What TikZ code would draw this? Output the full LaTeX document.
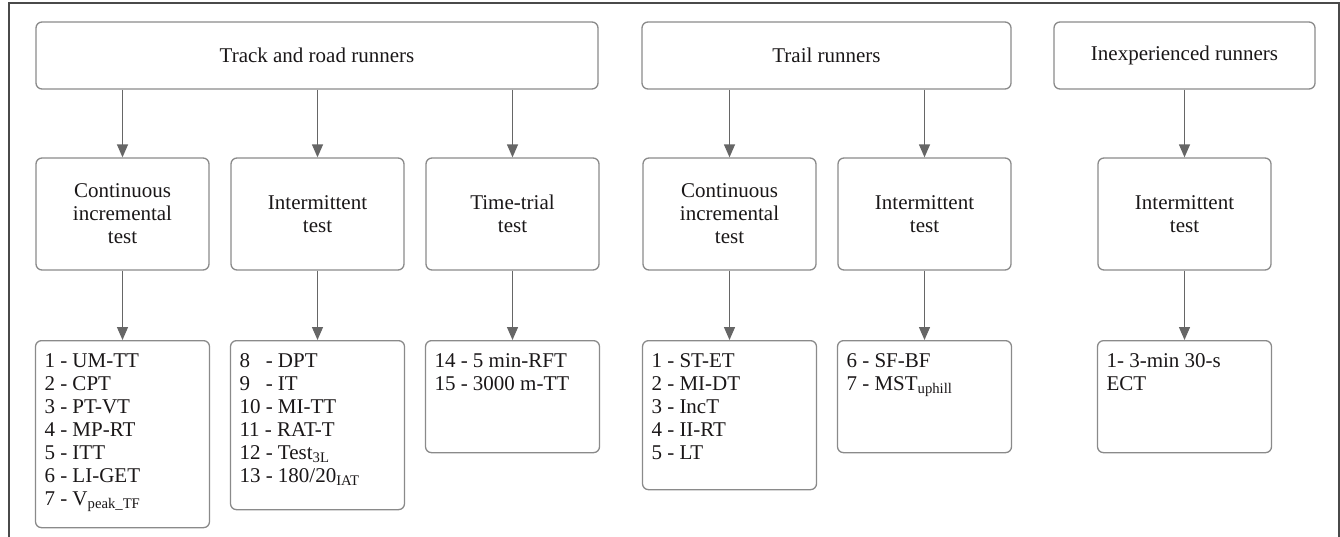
\documentclass[tikz,border=0pt]{standalone}
\usepackage{fontspec}
\setmainfont{Liberation Serif}
\usetikzlibrary{arrows.meta}

\definecolor{boxline}{HTML}{8A8A8A}
\definecolor{arrowcol}{HTML}{666666}
\definecolor{framecol}{HTML}{4A4A4A}
\definecolor{textcol}{HTML}{1A1718}

% top-aligned block of lines inside a list box
\newcommand{\itemlines}[2]{\parbox[t][#1][t]{156pt}{#2}}

\tikzset{
  every node/.style={text=textcol, font=\fontsize{21}{23}\selectfont},
  groupbox/.style={draw=boxline, line width=1.3pt, rounded corners=6pt,
    minimum width=#1, minimum height=67pt, inner sep=0pt},
  testbox/.style={draw=boxline, line width=1.3pt, rounded corners=6pt,
    minimum width=173pt, minimum height=112pt, inner sep=0pt, align=center},
  listbox/.style={draw=boxline, line width=1.3pt, rounded corners=6pt,
    minimum width=173pt, anchor=north, inner xsep=9pt, inner ysep=13pt},
  link/.style={draw=arrowcol, line width=1.3pt,
    -{Triangle[length=13pt,width=11pt]}}
}

\begin{document}
\begin{tikzpicture}[x=1pt,y=-1pt]
\useasboundingbox (0,0) rectangle (1340,536);

% outer frame
\draw[framecol, line width=2pt] (9,545) -- (9,3) -- (1338.5,3) -- (1338.5,545);

% runner groups
\node[groupbox=562pt] (trk) at (317,55.5) {Track and road runners};
\node[groupbox=369pt] (trl) at (826.5,55.5) {Trail runners};
\node[groupbox=261pt] (inx) at (1184.5,55.5) {Inexperienced runners};

% test types
\node[testbox] (ci1) at (122.5,214) {Continuous\\incremental\\test};
\node[testbox] (it1) at (317.5,214) {Intermittent\\test};
\node[testbox] (tt1) at (512.5,214) {Time-trial\\test};
\node[testbox] (ci2) at (729.5,214) {Continuous\\incremental\\test};
\node[testbox] (it2) at (924.5,214) {Intermittent\\test};
\node[testbox] (it3) at (1184.5,214) {Intermittent\\test};

% protocols
\node[listbox] (l1) at (122.5,340) {\itemlines{161pt}{%
  1 - UM-TT\\2 - CPT\\3 - PT-VT\\4 - MP-RT\\5 - ITT\\6 - LI-GET\\
  7 - V\textsubscript{peak\_TF}}};
\node[listbox] (l2) at (317.5,340) {\itemlines{143pt}{%
  8\phantom{0} - DPT\\9\phantom{0} - IT\\10 - MI-TT\\11 - RAT-T\\
  12 - Test\textsubscript{3L}\\13 - 180/20\textsubscript{IAT}}};
\node[listbox] (l3) at (512.5,340) {\itemlines{86pt}{%
  14 - 5 min-RFT\\15 - 3000 m-TT}};
\node[listbox] (l4) at (729.5,340) {\itemlines{123pt}{%
  1 - ST-ET\\2 - MI-DT\\3 - IncT\\4 - II-RT\\5 - LT}};
\node[listbox] (l5) at (924.5,340) {\itemlines{86pt}{%
  6 - SF-BF\\7 - MST\textsubscript{uphill}}};
\node[listbox] (l6) at (1184.5,340) {\itemlines{86pt}{%
  1- 3-min 30-s\\ECT}};

% connectors
\foreach \g/\t in {trk/ci1, trk/it1, trk/tt1, trl/ci2, trl/it2, inx/it3}
  \draw[link] (\t.north |- \g.south) -- (\t.north);
\foreach \t/\l in {ci1/l1, it1/l2, tt1/l3, ci2/l4, it2/l5, it3/l6}
  \draw[link] (\t.south) -- (\l.north);
\end{tikzpicture}
\end{document}
